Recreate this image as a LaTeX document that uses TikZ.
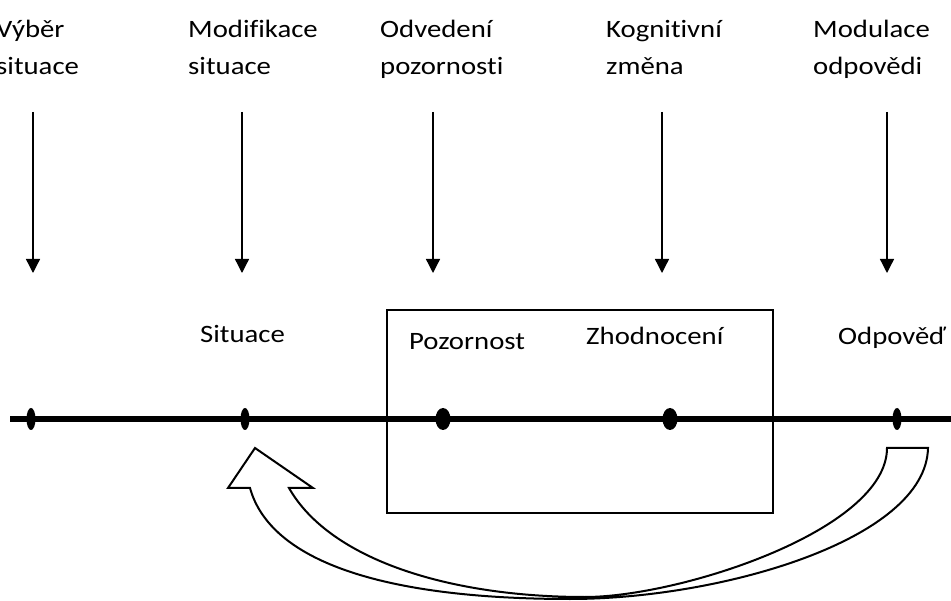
\documentclass[tikz,border=0pt]{standalone}
\usepackage{fontspec}
\setmainfont[FakeStretch=1.15,Ligatures=NoCommon]{Carlito}
\usetikzlibrary{arrows.meta}
\usetikzlibrary{shapes.geometric}

\tikzset{
  lbl/.style={anchor=base west,inner sep=0pt,align=left,font=\fontsize{25}{37}\selectfont},
  down/.style={line width=1.3pt,-{Triangle[length=14pt,width=14pt]}},
  dot/.style={ellipse,fill=black,inner sep=0pt,minimum width=9pt,minimum height=22pt},
  bigdot/.style={dot,minimum width=15pt}
}

\begin{document}
\begin{tikzpicture}[x=1pt,y=-1pt]
  \useasboundingbox (0,0) rectangle (951,601);

  \node[lbl] (vyber) at (-4,75) {Výběr\\situace};
  \node[lbl] (modif) at (188,75) {Modifikace\\situace};
  \node[lbl] (odved) at (380,75) {Odvedení\\pozornosti};
  \node[lbl] (kogn) at (606,75) {Kognitivní\\změna};
  \node[lbl] (modul) at (813,75) {Modulace\\odpovědi};

  \coordinate (a1) at (33,112);  \coordinate (b1) at (33,273);
  \coordinate (a2) at (242,112); \coordinate (b2) at (242,273);
  \coordinate (a3) at (433,112); \coordinate (b3) at (433,273);
  \coordinate (a4) at (662,112); \coordinate (b4) at (662,273);
  \coordinate (a5) at (887,112); \coordinate (b5) at (887,273);
  \draw[down] (a1) -- (b1);
  \draw[down] (a2) -- (b2);
  \draw[down] (a3) -- (b3);
  \draw[down] (a4) -- (b4);
  \draw[down] (a5) -- (b5);

  \draw[line width=2pt] (387,310) rectangle (773,513);

  \node[lbl] (sit) at (200,343) {Situace};
  \node[lbl] (poz) at (409,350) {Pozornost};
  \node[lbl] (zhod) at (586,345) {Zhodnocení};
  \node[lbl] (odp) at (838,345) {Odpověď};

  \coordinate (l0) at (10,419);
  \coordinate (l1) at (951,419);
  \draw[line width=6.5pt] (l0) -- (l1);

  \node[dot] (d1) at (31,419) {};
  \node[dot] (d2) at (245,419) {};
  \node[bigdot] (d3) at (443,419) {};
  \node[bigdot] (d4) at (670,419) {};
  \node[dot] (d5) at (897,419) {};

  \draw[line width=2pt,line join=miter] (887,448) -- (928,448)
    .. controls (926,540) and (720,599) .. (570,599)
    .. controls (380,599) and (270,560) .. (250,488)
    -- (228,488) -- (255,448) -- (313,488) -- (289,488)
    .. controls (330,560) and (450,597) .. (585,597)
    .. controls (680,597) and (887,530) .. (887,448) -- cycle;
\end{tikzpicture}
\end{document}
